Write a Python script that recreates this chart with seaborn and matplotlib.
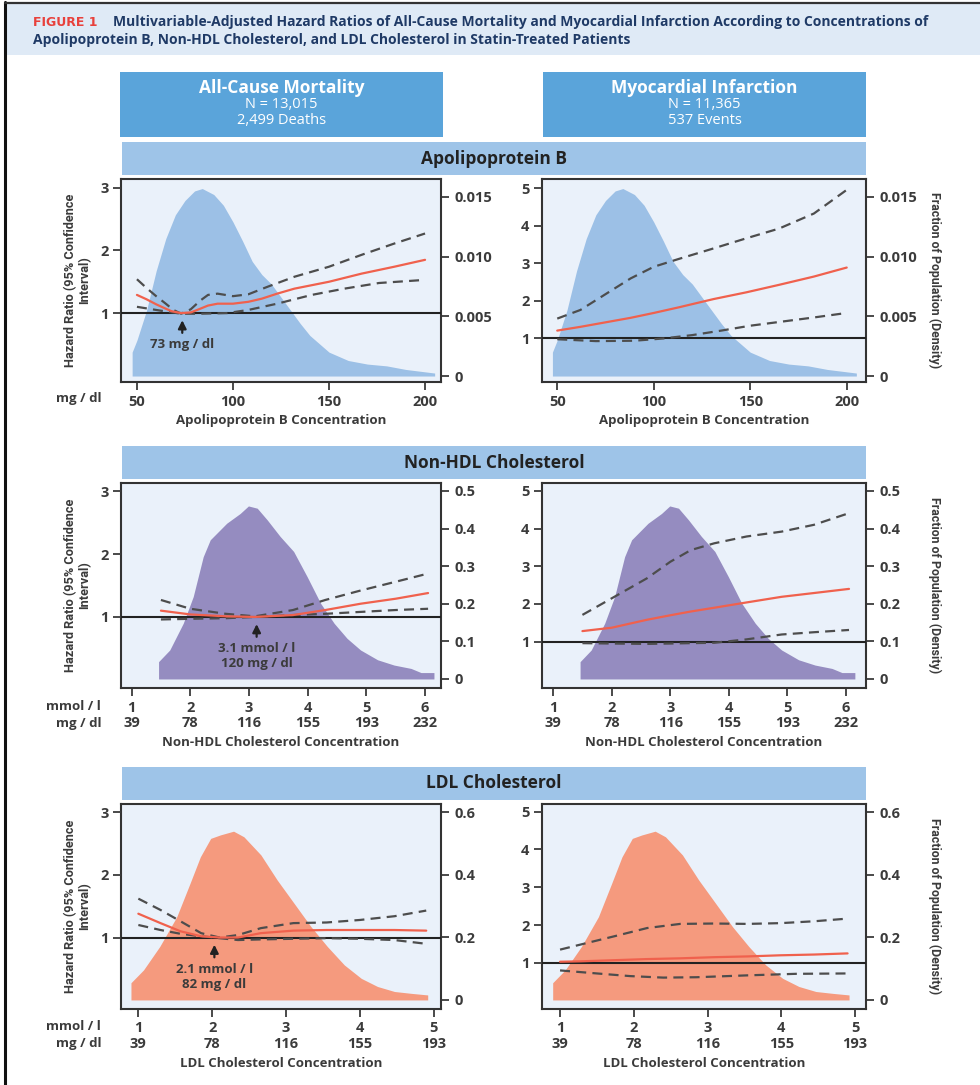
import numpy as np
import pandas as pd
import matplotlib
matplotlib.use("Agg")
import matplotlib.pyplot as plt
from matplotlib.patches import Rectangle
from matplotlib.lines import Line2D
import seaborn as sns

# ---------------- data ----------------
# Apolipoprotein B (mg/dl)
apob_dens_x = [47.5, 50, 55, 60, 65, 70, 75, 80, 84, 90, 95, 100, 105, 110, 115, 120, 125,
               130, 135, 140, 145, 150, 160, 170, 180, 190, 200, 205]
apob_dens_y = [0.0020, 0.0030, 0.0055, 0.0088, 0.0115, 0.0135, 0.0147, 0.0155, 0.0157, 0.0152,
               0.0143, 0.0129, 0.0113, 0.0096, 0.0085, 0.0077, 0.0066, 0.0055, 0.0044, 0.0034,
               0.0027, 0.0020, 0.0013, 0.0010, 0.00085, 0.00055, 0.00035, 0.00025]

apob_acm_x = [50, 55, 60, 65, 68, 73, 78, 83, 87, 92, 100, 108, 115, 123, 132, 150, 167, 184, 200]
apob_acm_hr = [1.29, 1.22, 1.14, 1.07, 1.03, 1.00, 1.01, 1.07, 1.12, 1.15, 1.15, 1.18, 1.23,
               1.31, 1.39, 1.50, 1.63, 1.74, 1.85]
apob_acm_up_x = [50, 55, 60, 65, 69, 73, 78, 83, 87, 92, 100, 108, 118, 132, 150, 167, 184, 200]
apob_acm_up = [1.54, 1.40, 1.27, 1.15, 1.05, 0.99, 1.06, 1.20, 1.29, 1.31, 1.27, 1.30, 1.42,
               1.58, 1.74, 1.93, 2.11, 2.27]
apob_acm_lo_x = [50, 62, 73, 83, 97, 108, 123, 141, 158, 176, 200]
apob_acm_lo = [1.10, 1.04, 0.99, 0.99, 1.00, 1.05, 1.15, 1.29, 1.39, 1.48, 1.53]

apob_mi_x = [50, 62, 75, 88, 100, 113, 131, 148, 165, 183, 200]
apob_mi_hr = [1.20, 1.30, 1.42, 1.54, 1.67, 1.82, 2.04, 2.22, 2.42, 2.64, 2.88]
apob_mi_up = [1.52, 1.75, 2.17, 2.59, 2.90, 3.11, 3.39, 3.66, 3.92, 4.32, 4.95]
apob_mi_lo_x = [50, 70, 90, 105, 120, 135, 150, 165, 183, 200]
apob_mi_lo = [0.97, 0.92, 0.93, 0.99, 1.08, 1.20, 1.33, 1.43, 1.55, 1.67]

# Non-HDL cholesterol (mmol/l)
nhdl_dens_x = [1.46, 1.65, 1.88, 2.05, 2.22, 2.34, 2.62, 2.85, 2.99, 3.14, 3.31, 3.53, 3.76,
               3.99, 4.22, 4.45, 4.67, 4.90, 5.19, 5.47, 5.76, 5.93, 6.15]
nhdl_dens_y = [0.046, 0.077, 0.148, 0.219, 0.325, 0.370, 0.414, 0.440, 0.460, 0.454, 0.423,
               0.379, 0.339, 0.272, 0.201, 0.148, 0.108, 0.077, 0.051, 0.037, 0.028, 0.017, 0.017]

nhdl_acm_x = [1.5, 2.0, 2.6, 3.1, 3.75, 4.3, 4.9, 5.5, 6.05]
nhdl_acm_hr = [1.10, 1.04, 1.01, 1.00, 1.03, 1.11, 1.21, 1.29, 1.38]
nhdl_acm_up = [1.27, 1.13, 1.05, 1.01, 1.11, 1.27, 1.42, 1.56, 1.69]
nhdl_acm_lo = [0.96, 0.97, 0.98, 1.00, 1.03, 1.05, 1.08, 1.11, 1.13]

nhdl_mi_x = [1.5, 2.0, 2.6, 3.0, 3.35, 3.75, 4.3, 4.9, 5.45, 6.05]
nhdl_mi_hr = [1.28, 1.37, 1.58, 1.70, 1.80, 1.90, 2.04, 2.19, 2.29, 2.40]
nhdl_mi_up = [1.71, 2.15, 2.68, 3.12, 3.43, 3.61, 3.79, 3.92, 4.10, 4.41]
nhdl_mi_lo = [0.96, 0.95, 0.94, 0.95, 0.96, 0.97, 1.06, 1.19, 1.25, 1.31]

# LDL cholesterol (mmol/l)
ldl_dens_x = [0.90, 1.07, 1.29, 1.52, 1.70, 1.84, 1.98, 2.11, 2.29, 2.43, 2.66, 2.88, 3.11,
              3.34, 3.56, 3.79, 4.02, 4.24, 4.47, 4.70, 4.92]
ldl_dens_y = [0.055, 0.096, 0.171, 0.266, 0.373, 0.458, 0.517, 0.528, 0.540, 0.522, 0.464,
              0.384, 0.309, 0.234, 0.171, 0.112, 0.069, 0.043, 0.027, 0.021, 0.016]

ldl_acm_x = [1.0, 1.3, 1.57, 1.85, 2.1, 2.35, 2.66, 3.1, 3.55, 4.0, 4.47, 4.9]
ldl_acm_hr = [1.38, 1.23, 1.10, 1.02, 1.00, 1.00, 1.07, 1.11, 1.12, 1.12, 1.12, 1.11]
ldl_acm_up = [1.62, 1.44, 1.26, 1.07, 1.00, 1.04, 1.15, 1.23, 1.24, 1.28, 1.34, 1.43]
ldl_acm_lo = [1.20, 1.12, 1.06, 1.02, 0.99, 0.96, 0.97, 0.98, 0.99, 0.98, 0.96, 0.90]

ldl_mi_x = [1.0, 1.27, 1.73, 2.18, 2.63, 3.09, 3.54, 3.99, 4.45, 4.9]
ldl_mi_hr = [1.03, 1.04, 1.07, 1.10, 1.12, 1.15, 1.17, 1.20, 1.22, 1.25]
ldl_mi_up = [1.35, 1.48, 1.70, 1.92, 2.03, 2.04, 2.03, 2.05, 2.10, 2.17]
ldl_mi_lo_x = [1.0, 1.5, 1.95, 2.4, 2.85, 3.55, 4.2, 4.9]
ldl_mi_lo = [0.80, 0.72, 0.65, 0.61, 0.62, 0.67, 0.71, 0.72]

# tick labels / text
apob_ticks = [50, 100, 150, 200]
nhdl_ticks_mmol = [1, 2, 3, 4, 5, 6]
nhdl_ticks_mg = ["39", "78", "116", "155", "193", "232"]
ldl_ticks_mmol = [1, 2, 3, 4, 5]
ldl_ticks_mg = ["39", "78", "116", "155", "193"]
row_titles = ["Apolipoprotein B", "Non-HDL Cholesterol", "LDL Cholesterol"]
x_titles = ["Apolipoprotein B Concentration", "Non-HDL Cholesterol Concentration",
            "LDL Cholesterol Concentration"]
col_headers = [("All-Cause Mortality", "N = 13,015", "2,499 Deaths"),
               ("Myocardial Infarction", "N = 11,365", "537 Events")]
ref_points = [(73.6, "73 mg / dl"), (3.13, "3.1 mmol / l\n120 mg / dl"),
              (2.03, "2.1 mmol / l\n82 mg / dl")]

# ---------------- style ----------------
sns.set_theme(style="ticks")
plt.rcParams['font.family'] = ['Open Sans', 'DejaVu Sans']
TXT = "#3b3b3b"
RED = "#f0614d"
DASH = "#4d4d4d"
BG = "#eaf1fa"
dens_colors = ["#9cc0e6", "#958cc0", "#f59a7e"]
NARROW = ['Liberation Sans Narrow', 'Roboto', 'DejaVu Sans']

W, H = 980, 1085
fig = plt.figure(figsize=(W / 100, H / 100), dpi=100)
fig.patch.set_facecolor("white")


def rect(l, t, r, b):
    return [l / W, 1 - b / H, (r - l) / W, (b - t) / H]


def fx(x):
    return x / W


def fy(y):
    return 1 - y / H


# figure frame + title band
fig.patches.append(Rectangle((fx(5), fy(55)), 1, (55 - 3) / H, transform=fig.transFigure,
                             facecolor="#dfeaf6", edgecolor="none", zorder=0))
fig.add_artist(Line2D([fx(5), fx(5)], [fy(2), fy(1085)], color="#111111", lw=2.2))
fig.add_artist(Line2D([fx(5), 1], [fy(2.5), fy(2.5)], color="#333333", lw=1.6))
fig.text(fx(33), fy(22), "FIGURE 1", color="#e8413c", fontsize=9, fontweight="bold",
         family=['DejaVu Sans'], va="center", ha="left")
fig.text(fx(113), fy(22),
         "Multivariable-Adjusted Hazard Ratios of All-Cause Mortality and Myocardial Infarction "
         "According to Concentrations of", color="#1f3a66", fontsize=10, fontweight="bold",
         va="center", ha="left")
fig.text(fx(33), fy(40),
         "Apolipoprotein B, Non-HDL Cholesterol, and LDL Cholesterol in Statin-Treated Patients",
         color="#1f3a66", fontsize=10, fontweight="bold", va="center", ha="left")

# column header boxes
for (l, r), (t1, t2, t3) in zip([(120, 443), (543, 866)], col_headers):
    fig.patches.append(Rectangle((fx(l), fy(137)), (r - l) / W, (137 - 72) / H,
                                 transform=fig.transFigure, facecolor="#5aa4da",
                                 edgecolor="none"))
    cx = fx((l + r) / 2)
    fig.text(cx, fy(88), t1, color="white", fontsize=12.5, fontweight="bold", ha="center",
             va="center")
    fig.text(cx, fy(105), t2, color="white", fontsize=10.5, ha="center", va="center")
    fig.text(cx, fy(121), t3, color="white", fontsize=10.5, ha="center", va="center")

# row title bands
band_tops = [142, 446, 767]
for t, title in zip(band_tops, row_titles):
    fig.patches.append(Rectangle((fx(122), fy(t + 33)), (866 - 122) / W, 33 / H,
                                 transform=fig.transFigure, facecolor="#9ec4e8",
                                 edgecolor="none"))
    fig.text(fx(494), fy(t + 16.5), title, color="#222222", fontsize=12.5, fontweight="bold",
             ha="center", va="center")

rows_px = [(179, 382), (483, 688), (804, 1009)]
cols_px = [(121, 441), (542, 866)]

panels = [
    # row 0
    dict(dx=apob_dens_x, dy=apob_dens_y, x=apob_acm_x, hr=apob_acm_hr, ux=apob_acm_up_x,
         up=apob_acm_up, lx=apob_acm_lo_x, lo=apob_acm_lo, xlim=(41.7, 208.3),
         ylim=(-0.10, 3.14), hrt=[1, 2, 3]),
    dict(dx=apob_dens_x, dy=apob_dens_y, x=apob_mi_x, hr=apob_mi_hr, ux=apob_mi_x,
         up=apob_mi_up, lx=apob_mi_lo_x, lo=apob_mi_lo, xlim=(42.1, 210.0),
         ylim=(-0.17, 5.24), hrt=[1, 2, 3, 4, 5]),
    # row 1
    dict(dx=nhdl_dens_x, dy=nhdl_dens_y, x=nhdl_acm_x, hr=nhdl_acm_hr, ux=nhdl_acm_x,
         up=nhdl_acm_up, lx=nhdl_acm_x, lo=nhdl_acm_lo, xlim=(0.82, 6.27),
         ylim=(-0.13, 3.13), hrt=[1, 2, 3]),
    dict(dx=nhdl_dens_x, dy=nhdl_dens_y, x=nhdl_mi_x, hr=nhdl_mi_hr, ux=nhdl_mi_x,
         up=nhdl_mi_up, lx=nhdl_mi_x, lo=nhdl_mi_lo, xlim=(0.81, 6.34),
         ylim=(-0.23, 5.21), hrt=[1, 2, 3, 4, 5]),
    # row 2
    dict(dx=ldl_dens_x, dy=ldl_dens_y, x=ldl_acm_x, hr=ldl_acm_hr, ux=ldl_acm_x,
         up=ldl_acm_up, lx=ldl_acm_x, lo=ldl_acm_lo, xlim=(0.765, 5.10),
         ylim=(-0.14, 3.13), hrt=[1, 2, 3]),
    dict(dx=ldl_dens_x, dy=ldl_dens_y, x=ldl_mi_x, hr=ldl_mi_hr, ux=ldl_mi_x,
         up=ldl_mi_up, lx=ldl_mi_lo_x, lo=ldl_mi_lo, xlim=(0.755, 5.15),
         ylim=(-0.22, 5.20), hrt=[1, 2, 3, 4, 5]),
]
dens_ylims = [(-0.0005, 0.0165), (-0.024, 0.521), (-0.029, 0.627)]
dens_ticks = [([0, 0.005, 0.010, 0.015], ["0", "0.005", "0.010", "0.015"]),
              ([0, 0.1, 0.2, 0.3, 0.4, 0.5], ["0", "0.1", "0.2", "0.3", "0.4", "0.5"]),
              ([0, 0.2, 0.4, 0.6], ["0", "0.2", "0.4", "0.6"])]

tick_kw = dict(labelsize=10.5, colors=TXT, length=6, width=1.3, direction="out")

for i, p in enumerate(panels):
    r, c = divmod(i, 2)
    (t, b), (l, rr) = rows_px[r], cols_px[c]
    axd = fig.add_axes(rect(l, t, rr, b))       # density (right axis)
    ax = axd.twinx()                              # hazard ratio, drawn above
    ax.set_zorder(axd.get_zorder() + 1)
    ax.patch.set_visible(False)
    axd.set_facecolor(BG)

    # density area
    dens_df = pd.DataFrame({"x": p["dx"], "d": p["dy"]})
    axd.fill_between(dens_df["x"], 0, dens_df["d"], color=dens_colors[r], lw=0)

    # hazard ratio curves
    ax.axhline(1, color="#222222", lw=1.5, zorder=2)
    sns.lineplot(x=p["ux"], y=p["up"], ax=ax, color=DASH, lw=1.6,
                 linestyle=(0, (4.5, 2.8)), zorder=3)
    sns.lineplot(x=p["lx"], y=p["lo"], ax=ax, color=DASH, lw=1.6,
                 linestyle=(0, (4.5, 2.8)), zorder=3)
    sns.lineplot(x=p["x"], y=p["hr"], ax=ax, color=RED, lw=1.6, zorder=4)

    ax.yaxis.tick_left()
    ax.yaxis.set_label_position("left")
    ax.set_ylim(*p["ylim"])
    ax.set_yticks(p["hrt"])
    ax.set_yticklabels([str(v) for v in p["hrt"]])

    axd.yaxis.tick_right()
    axd.yaxis.set_label_position("right")
    axd.set_ylim(*dens_ylims[r])
    axd.set_yticks(dens_ticks[r][0])
    axd.set_yticklabels(dens_ticks[r][1])
    axd.set_xlim(*p["xlim"])

    # x ticks (shared x axis, shown on the density axes)
    if r == 0:
        axd.set_xticks(apob_ticks)
        axd.set_xticklabels([str(v) for v in apob_ticks])
    elif r == 1:
        axd.set_xticks(nhdl_ticks_mmol)
        axd.set_xticklabels([f"{a}\n{b}" for a, b in zip(nhdl_ticks_mmol, nhdl_ticks_mg)],
                            linespacing=1.15)
    else:
        axd.set_xticks(ldl_ticks_mmol)
        axd.set_xticklabels([f"{a}\n{b}" for a, b in zip(ldl_ticks_mmol, ldl_ticks_mg)],
                            linespacing=1.15)
    for a in (ax, axd):
        a.tick_params(axis="both", **tick_kw)
        for lab in a.get_xticklabels() + a.get_yticklabels():
            lab.set_fontweight("bold")
    axd.tick_params(axis="x", pad=3)
    axd.tick_params(axis="y", pad=4)
    ax.tick_params(axis="y", pad=3)
    for s in ax.spines.values():
        s.set_visible(False)
    for s in axd.spines.values():
        s.set_color("#333333")
        s.set_linewidth(1.5)
    ax.set_xlabel("")
    ax.set_ylabel("")
    axd.set_ylabel("")
    axd.set_xlabel(x_titles[r], fontsize=9.5, fontweight="bold", color=TXT, labelpad=4)

    if c == 0:
        ax.set_ylabel("Hazard Ratio (95% Confidence\nInterval)", fontsize=9.2,
                      fontweight="bold", color=TXT, family=NARROW, linespacing=1.1)
        ax.yaxis.set_label_coords((91 - l) / (rr - l), 0.5)
        xr, lbl = ref_points[r]
        ax.annotate("", xy=(xr, 0.93), xytext=(xr, 0.64),
                    arrowprops=dict(arrowstyle="-|>", color="#222222", lw=1.6,
                                    mutation_scale=12))
        ax.text(xr, 0.60, lbl, ha="center", va="top", fontsize=9.5, fontweight="bold",
                color=TXT, linespacing=1.2)
    else:
        axd.set_ylabel("Fraction of Population (Density)", fontsize=8.9, fontweight="bold",
                       color=TXT, family=NARROW, rotation=270, va="bottom")
        axd.yaxis.set_label_coords((928 - l) / (rr - l), 0.5)

# unit labels at left of x tick rows
unit_rows = [[(399, "mg / dl")], [(706, "mmol / l"), (723, "mg / dl")],
             [(1026, "mmol / l"), (1043, "mg / dl")]]
for rowlabels in unit_rows:
    for y, s in rowlabels:
        fig.text(fx(101), fy(y), s, ha="right", va="center", fontsize=9.5, fontweight="bold",
                 color=TXT)

fig.savefig("out.png", dpi=100)
